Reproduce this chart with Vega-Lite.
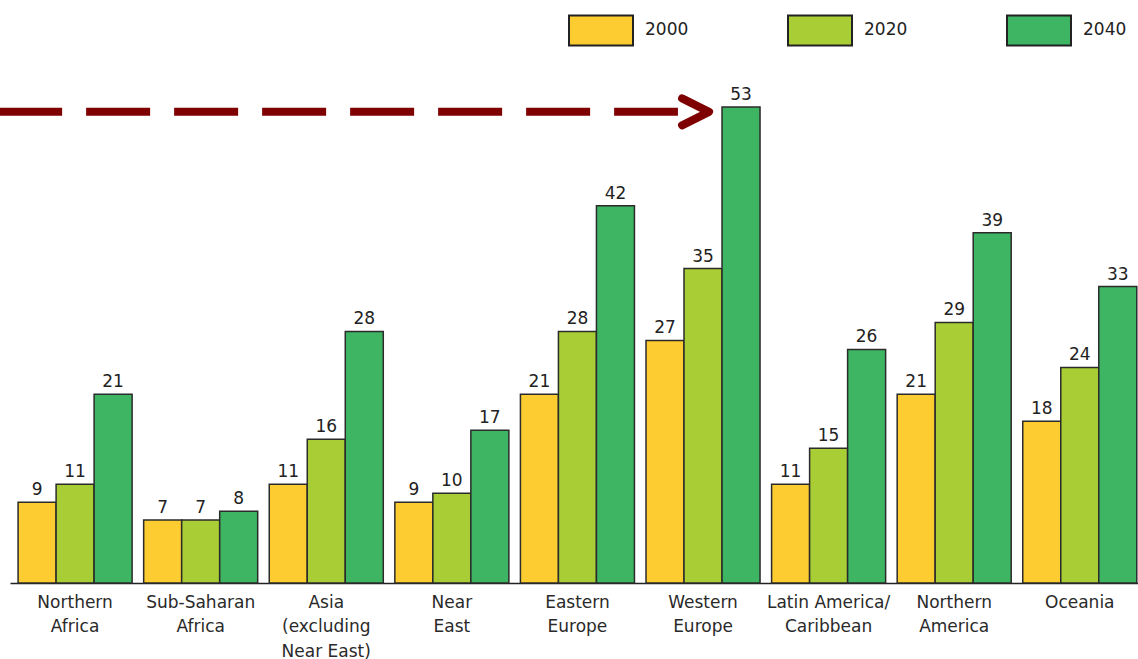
{
  "$schema": "https://vega.github.io/schema/vega-lite/v6.json",
  "autosize": {"type": "none"},
  "padding": {"left": 10, "top": 44, "right": 0, "bottom": 76},
  "width": 1128,
  "height": 539,
  "background": "white",
  "config": {"font": "DejaVu Sans", "view": {"stroke": null}},
  "data": {"values": [
    {"region": "Northern|Africa", "year": "2000", "value": 9},
    {"region": "Northern|Africa", "year": "2020", "value": 11},
    {"region": "Northern|Africa", "year": "2040", "value": 21},
    {"region": "Sub-Saharan|Africa", "year": "2000", "value": 7},
    {"region": "Sub-Saharan|Africa", "year": "2020", "value": 7},
    {"region": "Sub-Saharan|Africa", "year": "2040", "value": 8},
    {"region": "Asia|(excluding|Near East)", "year": "2000", "value": 11},
    {"region": "Asia|(excluding|Near East)", "year": "2020", "value": 16},
    {"region": "Asia|(excluding|Near East)", "year": "2040", "value": 28},
    {"region": "Near|East", "year": "2000", "value": 9},
    {"region": "Near|East", "year": "2020", "value": 10},
    {"region": "Near|East", "year": "2040", "value": 17},
    {"region": "Eastern|Europe", "year": "2000", "value": 21},
    {"region": "Eastern|Europe", "year": "2020", "value": 28},
    {"region": "Eastern|Europe", "year": "2040", "value": 42},
    {"region": "Western|Europe", "year": "2000", "value": 27},
    {"region": "Western|Europe", "year": "2020", "value": 35},
    {"region": "Western|Europe", "year": "2040", "value": 53},
    {"region": "Latin America/|Caribbean", "year": "2000", "value": 11},
    {"region": "Latin America/|Caribbean", "year": "2020", "value": 15},
    {"region": "Latin America/|Caribbean", "year": "2040", "value": 26},
    {"region": "Northern|America", "year": "2000", "value": 21},
    {"region": "Northern|America", "year": "2020", "value": 29},
    {"region": "Northern|America", "year": "2040", "value": 39},
    {"region": "Oceania", "year": "2000", "value": 18},
    {"region": "Oceania", "year": "2020", "value": 24},
    {"region": "Oceania", "year": "2040", "value": 33}
  ]},
  "layer": [
    {
      "mark": {"type": "bar", "stroke": "#2b2b2b", "strokeWidth": 1.5},
      "encoding": {
        "x": {
          "field": "region", "type": "nominal", "sort": null,
          "scale": {"paddingInner": 0.092, "paddingOuter": 0.037, "align": 0.87},
          "axis": {
            "title": null, "labelAngle": 0, "ticks": false,
            "domainColor": "#222", "domainWidth": 1.5,
            "labelExpr": "split(datum.label, '|')",
            "labelFontSize": 17, "labelColor": "#2a2a2a",
            "labelLineHeight": 24.5, "labelPadding": 11, "labelBaseline": "top"
          }
        },
        "xOffset": {"field": "year", "type": "nominal", "scale": {"paddingInner": 0, "paddingOuter": 0}},
        "y": {"field": "value", "type": "quantitative", "scale": {"domain": [0, 60], "nice": false}, "axis": null},
        "fill": {
          "field": "year", "type": "nominal",
          "scale": {"domain": ["2000", "2020", "2040"], "range": ["#FDCC31", "#A9CE35", "#3DB562"]},
          "legend": {
            "title": null, "orient": "none", "direction": "horizontal", "columns": 3,
            "legendX": 558, "legendY": -47, "padding": 0,
            "symbolType": "M-1,-0.47H1V0.47H-1Z", "symbolSize": 4096,
            "symbolStrokeColor": "#222", "symbolStrokeWidth": 2, "symbolOpacity": 1,
            "labelFontSize": 17, "labelColor": "#222", "labelOffset": 11,
            "columnPadding": 95
          }
        }
      }
    },
    {
      "mark": {"type": "text", "baseline": "alphabetic", "dy": -7, "fontSize": 17, "color": "#222"},
      "encoding": {
        "x": {"field": "region", "type": "nominal", "sort": null},
        "xOffset": {"field": "year", "type": "nominal"},
        "y": {"field": "value", "type": "quantitative"},
        "text": {"field": "value", "type": "quantitative"}
      }
    },
    {
      "data": {"values": [{"annotation": "arrow"}]},
      "mark": {"type": "rule", "color": "#7F0000", "strokeWidth": 8, "strokeDash": [64, 24], "strokeCap": "butt"},
      "encoding": {
        "x": {"datum": "Northern|Africa", "bandPosition": -0.175},
        "x2": {"datum": "Western|Europe", "bandPosition": 0.28},
        "y": {"datum": 52.45}
      }
    },
    {
      "data": {"values": [{"annotation": "arrowhead"}]},
      "mark": {"type": "point", "shape": "M-2,-1L0,0L-2,1", "size": 729, "filled": false, "stroke": "#7F0000", "strokeWidth": 8, "strokeCap": "round", "strokeJoin": "round", "opacity": 1},
      "encoding": {
        "x": {"datum": "Western|Europe", "bandPosition": 0.553},
        "y": {"datum": 52.45}
      }
    }
  ]
}
